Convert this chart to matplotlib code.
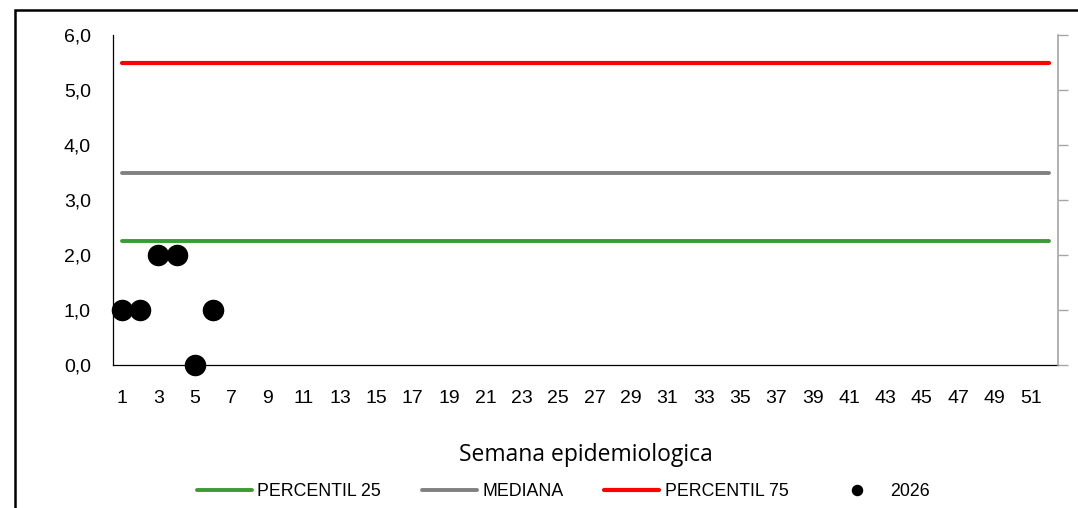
import matplotlib
matplotlib.use("Agg")
import matplotlib.pyplot as plt
from matplotlib.patches import Rectangle

# weeks and reference levels
semanas = list(range(1, 53))
percentil_25 = [2.25] * 52
mediana = [3.5] * 52
percentil_75 = [5.5] * 52

# observed cases 2026
semanas_2026 = [1, 2, 3, 4, 5, 6]
casos_2026 = [1, 1, 2, 2, 0, 1]

y_ticks = [0, 1, 2, 3, 4, 5, 6]
y_labels = ["0,0", "1,0", "2,0", "3,0", "4,0", "5,0", "6,0"]
x_ticks = list(range(1, 53, 2))

plt.rcParams['font.family'] = ['Liberation Sans', 'DejaVu Sans']

W, H = 1078, 508
fig = plt.figure(figsize=(W / 100, H / 100), dpi=100)
ax = fig.add_axes([113 / W, 1 - 365 / H, (1058 - 113) / W, (365 - 35) / H])

ax.plot(semanas, percentil_25, color='#3a9a35', lw=2.8, label='PERCENTIL 25', solid_capstyle='round')
ax.plot(semanas, mediana, color='#808080', lw=2.8, label='MEDIANA', solid_capstyle='round')
ax.plot(semanas, percentil_75, color='#ff0000', lw=3.0, label='PERCENTIL 75', solid_capstyle='round')
ax.plot(semanas_2026, casos_2026, 'o', color='black', ms=14.5, label='2026', clip_on=False, zorder=5)

ax.set_xlim(0.5, 52.5)
ax.set_ylim(0, 6)
ax.set_yticks(y_ticks)
ax.set_yticklabels(y_labels)
ax.set_xticks(x_ticks)
ax.tick_params(axis='y', length=0, pad=16, labelsize=14)
ax.tick_params(axis='x', length=0, pad=18, labelsize=14)

for s in ['top', 'right']:
    ax.spines[s].set_visible(False)
ax.spines['left'].set_linewidth(0.9)
ax.spines['bottom'].set_linewidth(0.9)

# secondary axis on the right, only ticks
ax2 = ax.twinx()
ax2.set_ylim(0, 6)
ax2.set_yticks(y_ticks)
ax2.set_yticklabels([''] * len(y_ticks))
ax2.tick_params(axis='y', length=7, width=1, color='#a6a6a6', direction='out')
for s in ['top', 'left', 'bottom']:
    ax2.spines[s].set_visible(False)
ax2.spines['right'].set_color('#a6a6a6')
ax2.spines['right'].set_linewidth(1.2)

ax.set_xlabel('Semana epidemiologica', family=['Open Sans', 'DejaVu Sans'], fontsize=16.5, labelpad=26)

handles, labels = ax.get_legend_handles_labels()
leg = fig.legend(handles, labels, loc='center', bbox_to_anchor=(563 / W, 1 - 492 / H), ncol=4,
                 frameon=False, fontsize=12.8, handlelength=3.1, handletextpad=0.3,
                 columnspacing=2.3, markerscale=0.5)

# outer chart border
fig.patches.append(Rectangle((15 / W, -0.1), 1.2, 1 - 10 / H + 0.1, transform=fig.transFigure,
                             fill=False, ec='black', lw=1.8))

fig.savefig('out.png', dpi=100)
